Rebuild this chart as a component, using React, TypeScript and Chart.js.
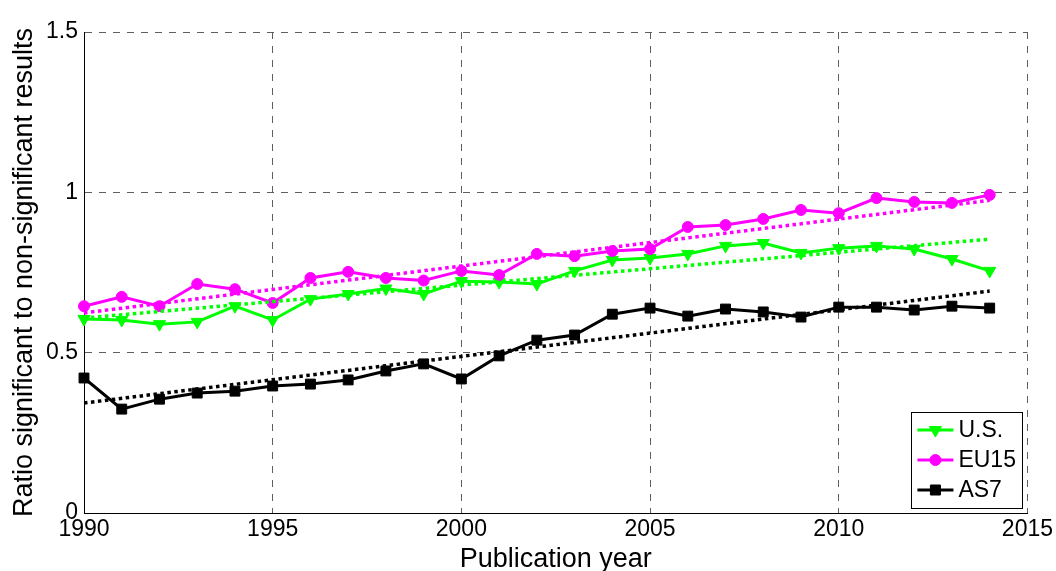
import { useEffect, useRef } from 'react';
import { Chart, registerables } from 'chart.js';

Chart.register(...registerables);

const seriesNames = ['U.S.', 'EU15', 'AS7'];
const seriesColors = ['#00ff00', '#ff00ff', '#000000'];

const years = [
  1990, 1991, 1992, 1993, 1994, 1995, 1996, 1997, 1998, 1999, 2000, 2001, 2002,
  2003, 2004, 2005, 2006, 2007, 2008, 2009, 2010, 2011, 2012, 2013, 2014,
];
const usValues = [
  0.605, 0.602, 0.589, 0.596, 0.645, 0.602, 0.667, 0.683, 0.7, 0.683, 0.723, 0.72, 0.714,
  0.755, 0.789, 0.795, 0.808, 0.833, 0.842, 0.811, 0.826, 0.833, 0.823, 0.792, 0.755,
];
const eu15Values = [
  0.645, 0.674, 0.645, 0.714, 0.698, 0.655, 0.733, 0.752, 0.733, 0.725, 0.755, 0.742, 0.808,
  0.801, 0.817, 0.823, 0.892, 0.898, 0.917, 0.945, 0.935, 0.982, 0.97, 0.967, 0.992,
];
const as7Values = [
  0.421, 0.324, 0.355, 0.374, 0.38, 0.396, 0.402, 0.415, 0.443, 0.465, 0.418, 0.49, 0.539,
  0.555, 0.62, 0.639, 0.614, 0.636, 0.627, 0.611, 0.642, 0.642, 0.633, 0.645, 0.639,
];

const trendYears = [1990, 2014];
const usTrend = [0.608, 0.854];
const eu15Trend = [0.624, 0.975];
const as7Trend = [0.343, 0.692];

const xTickValues = [1990, 1995, 2000, 2005, 2010, 2015];
const yTickValues = [0, 0.5, 1, 1.5];

const xTitle = 'Publication year';
const yTitle = 'Ratio significant to non-significant results';

const FONT = '"Liberation Sans", Arial, sans-serif';
const GRID = '#5f5f5f';

function toPoints(xs: number[], ys: number[]) {
  return xs.map((x, i) => ({ x, y: ys[i] }));
}

function drawMarker(ctx: CanvasRenderingContext2D, kind: number, x: number, y: number, color: string) {
  ctx.save();
  ctx.fillStyle = color;
  ctx.strokeStyle = color;
  ctx.lineWidth = 1;
  ctx.beginPath();
  if (kind === 0) {
    const r = 7;
    ctx.moveTo(x, y + r * 0.75 + 1.75);
    ctx.lineTo(x - r * 0.866, y - r * 0.5);
    ctx.lineTo(x + r * 0.866, y - r * 0.5);
    ctx.closePath();
  } else if (kind === 1) {
    ctx.arc(x, y, 5.5, 0, Math.PI * 2);
  } else {
    ctx.rect(x - 5, y - 5, 10, 10);
  }
  ctx.fill();
  ctx.stroke();
  ctx.restore();
}

const annotationsPlugin = {
  id: 'annotations',
  afterDraw(chart: any) {
    const { ctx, chartArea } = chart;
    ctx.save();
    // axis titles
    ctx.fillStyle = '#000';
    ctx.font = `27px ${FONT}`;
    ctx.textAlign = 'center';
    ctx.textBaseline = 'alphabetic';
    ctx.fillText(xTitle, (chartArea.left + chartArea.right) / 2, 567);
    ctx.save();
    ctx.translate(32, (chartArea.top + chartArea.bottom) / 2);
    ctx.rotate(-Math.PI / 2);
    ctx.fillText(yTitle, 0, 0);
    ctx.restore();

    // legend
    const boxRight = chartArea.right - 5;
    const boxBottom = chartArea.bottom - 5;
    const boxW = 111;
    const boxH = 96;
    const bx = boxRight - boxW;
    const by = boxBottom - boxH;
    ctx.fillStyle = '#fff';
    ctx.fillRect(bx, by, boxW, boxH);
    ctx.strokeStyle = '#000';
    ctx.lineWidth = 1;
    ctx.strokeRect(Math.round(bx) + 0.5, Math.round(by) + 0.5, boxW, boxH);
    ctx.font = `23px ${FONT}`;
    ctx.textAlign = 'left';
    ctx.textBaseline = 'middle';
    seriesNames.forEach((name, i) => {
      const y = by + 18 + i * 30;
      ctx.strokeStyle = seriesColors[i];
      ctx.lineWidth = 3;
      ctx.beginPath();
      ctx.moveTo(bx + 6, y);
      ctx.lineTo(bx + 42, y);
      ctx.stroke();
      drawMarker(ctx, i, bx + 24, y, seriesColors[i]);
      ctx.fillStyle = '#000';
      ctx.fillText(name, bx + 47, y + 1);
    });
    ctx.restore();
  },
};

export default function App() {
  const canvasRef = useRef<HTMLCanvasElement | null>(null);

  useEffect(() => {
    document.body.style.margin = '0';
    const canvas = canvasRef.current;
    if (!canvas) return;

    const lineDs = (i: number, values: number[], pointStyle: string, radius: number, rotation: number, order: number) => ({
      label: seriesNames[i],
      data: toPoints(years, values),
      borderColor: seriesColors[i],
      backgroundColor: seriesColors[i],
      borderWidth: 3,
      pointStyle,
      pointRadius: radius,
      pointRotation: rotation,
      pointBackgroundColor: seriesColors[i],
      pointBorderColor: seriesColors[i],
      pointBorderWidth: 1,
      tension: 0,
      clip: false,
      order,
    });
    const trendDs = (i: number, values: number[]) => ({
      label: seriesNames[i] + ' trend',
      data: toPoints(trendYears, values),
      borderColor: seriesColors[i],
      borderWidth: 3.5,
      borderDash: [3.5, 3.5],
      borderCapStyle: 'butt',
      pointRadius: 0,
      tension: 0,
      clip: false,
      order: 0,
    });

    const chart = new Chart(canvas, {
      type: 'line',
      data: {
        datasets: [
          lineDs(2, as7Values, 'rect', 7, 0, 1),
          lineDs(1, eu15Values, 'circle', 5.5, 0, 2),
          lineDs(0, usValues, 'triangle', 7, 180, 3),
          trendDs(0, usTrend),
          trendDs(1, eu15Trend),
          trendDs(2, as7Trend),
        ] as any,
      },
      options: {
        animation: false,
        responsive: false,
        devicePixelRatio: 1,
        events: [],
        layout: { padding: { left: 0, top: 32, right: 28, bottom: 0 } },
        plugins: { legend: { display: false }, tooltip: { enabled: false } },
        scales: {
          x: {
            type: 'linear',
            min: xTickValues[0],
            max: xTickValues[xTickValues.length - 1],
            afterBuildTicks: (s: any) => {
              s.ticks = xTickValues.map((v) => ({ value: v }));
            },
            afterFit: (s: any) => {
              s.height = 58;
            },
            ticks: {
              padding: 3,
              color: '#000',
              font: { family: FONT, size: 23 },
              callback: (v: any) => String(v),
              maxRotation: 0,
              autoSkip: false,
            },
            grid: {
              color: (c: any) => (c.tick && c.tick.value === xTickValues[0] ? 'rgba(0,0,0,0)' : GRID),
              lineWidth: 1,
              drawTicks: false,
            },
            border: { display: true, color: '#000', width: 1, dash: [7, 7] },
          },
          y: {
            type: 'linear',
            min: yTickValues[0],
            max: yTickValues[yTickValues.length - 1],
            afterBuildTicks: (s: any) => {
              s.ticks = yTickValues.map((v) => ({ value: v }));
            },
            afterFit: (s: any) => {
              s.width = 84;
            },
            ticks: {
              padding: 6,
              color: '#000',
              font: { family: FONT, size: 23 },
              callback: (v: any) => String(v),
            },
            grid: {
              color: (c: any) => (c.tick && c.tick.value === yTickValues[0] ? 'rgba(0,0,0,0)' : GRID),
              lineWidth: 1,
              drawTicks: false,
            },
            border: { display: true, color: '#000', width: 1, dash: [7, 7] },
          },
        },
      } as any,
      plugins: [annotationsPlugin],
    });

    return () => chart.destroy();
  }, []);

  return (
    <div style={{ width: 1056, height: 571, position: 'relative', background: '#fff' }}>
      <canvas ref={canvasRef} width={1056} height={571} style={{ width: 1056, height: 571, display: 'block' }} />
    </div>
  );
}
